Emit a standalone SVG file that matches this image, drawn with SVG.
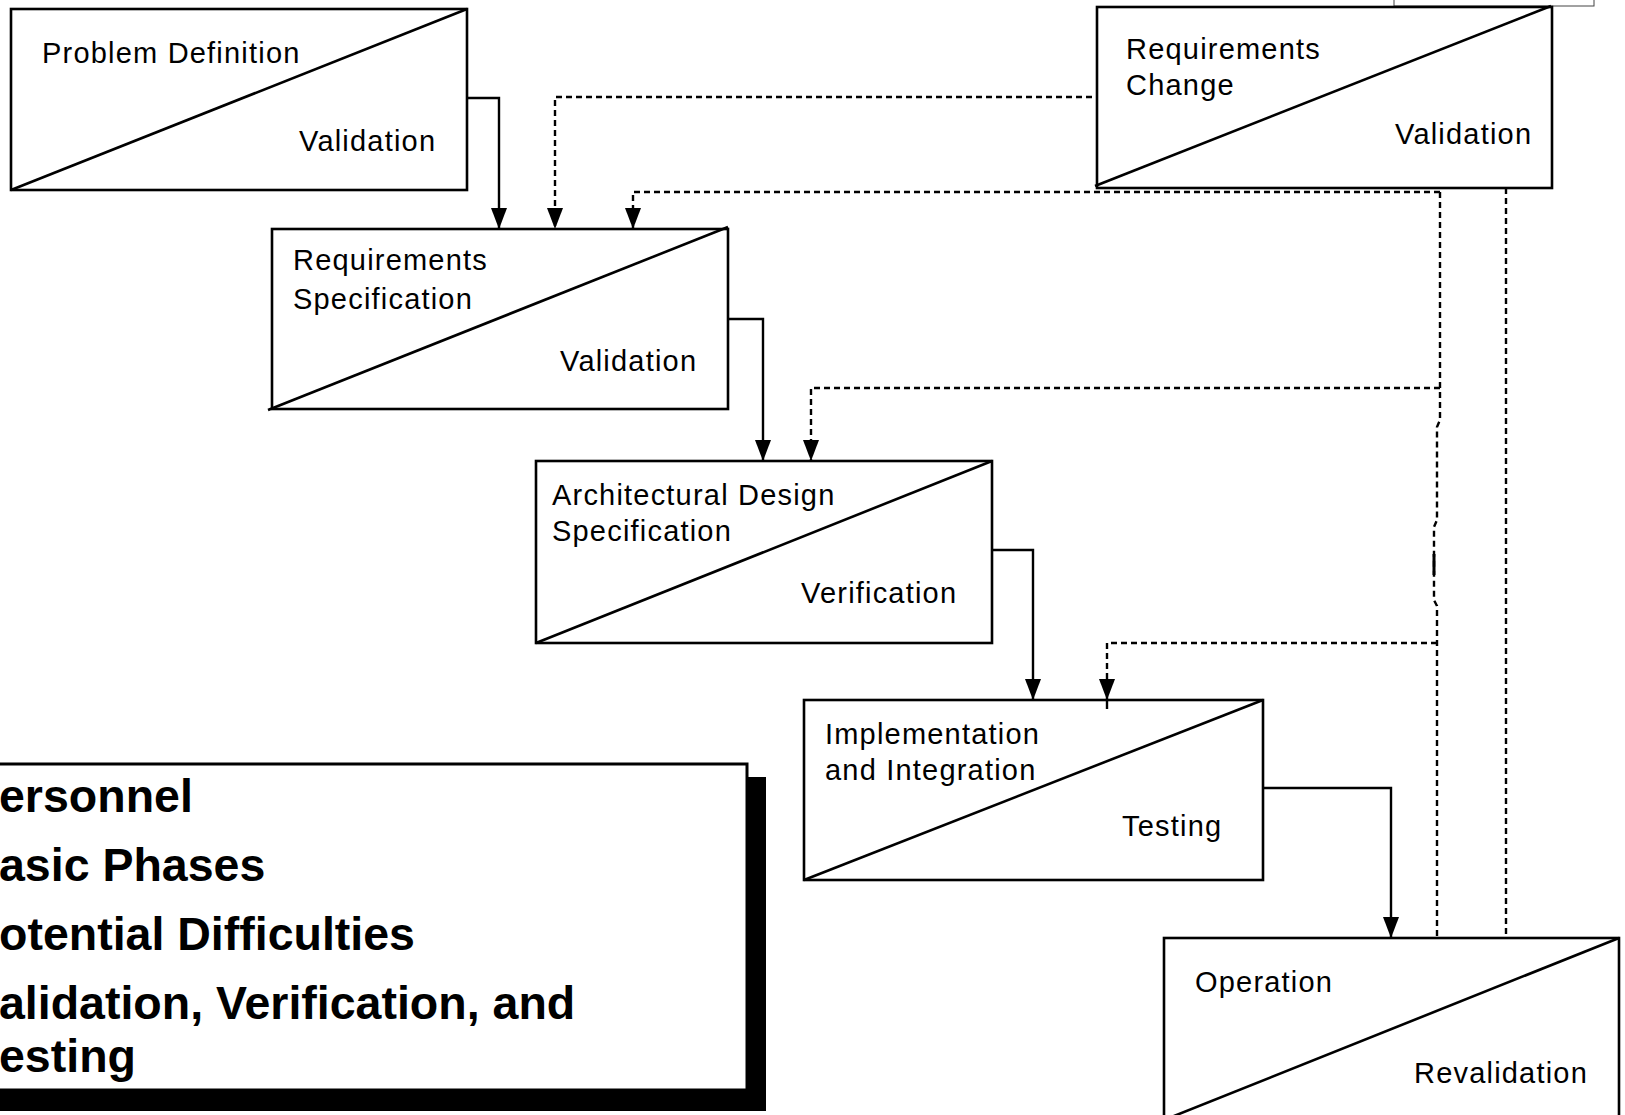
<svg xmlns="http://www.w3.org/2000/svg" width="1625" height="1115" viewBox="0 0 1625 1115">
<style>
.box{fill:#fff;stroke:#000;stroke-width:2.6}
.diag{fill:none;stroke:#000;stroke-width:2.6}
.t{font-family:"Liberation Sans",Arial,sans-serif;font-size:29px;letter-spacing:1.2px;fill:#000}
.b{font-family:"Liberation Sans",Arial,sans-serif;font-size:46.5px;font-weight:bold;fill:#000}
.solid{fill:none;stroke:#000;stroke-width:2.4}
.dash{fill:none;stroke:#000;stroke-width:2.4;stroke-dasharray:6 4}
</style>
<defs>
<marker id="ah" markerUnits="userSpaceOnUse" markerWidth="21" markerHeight="16" viewBox="0 0 21 16" refX="21" refY="8" orient="auto">
<path d="M0,0 L21,8 L0,16 Z" fill="#000"/>
</marker>
</defs>
<rect width="1625" height="1115" fill="#fff"/>

<g id="corner-box">
<rect x="1394" y="-10" width="200" height="16" fill="#fff" stroke="#444" stroke-width="1"/>
</g>

<g id="problem-definition">
<rect class="box" x="11" y="9" width="456" height="181"/>
<line class="diag" x1="11" y1="190" x2="467" y2="9"/>
<text class="t" x="42" y="63">Problem Definition</text>
<text class="t" x="299" y="151">Validation</text>
</g>

<g id="requirements-change">
<rect class="box" x="1097" y="7" width="455" height="181"/>
<line class="diag" x1="1095" y1="186" x2="1551" y2="6"/>
<text class="t" x="1126" y="59">Requirements</text>
<text class="t" x="1126" y="95">Change</text>
<text class="t" x="1395" y="144">Validation</text>
</g>

<g id="requirements-specification">
<rect class="box" x="272" y="229" width="456" height="180"/>
<line class="diag" x1="268" y1="410" x2="728" y2="227"/>
<text class="t" x="293" y="270">Requirements</text>
<text class="t" x="293" y="309">Specification</text>
<text class="t" x="560" y="371">Validation</text>
</g>

<g id="architectural-design">
<rect class="box" x="536" y="461" width="456" height="182"/>
<line class="diag" x1="536" y1="643" x2="992" y2="461"/>
<text class="t" x="552" y="505">Architectural Design</text>
<text class="t" x="552" y="541">Specification</text>
<text class="t" x="801" y="603">Verification</text>
</g>

<g id="implementation">
<rect class="box" x="804" y="700" width="459" height="180"/>
<line class="diag" x1="804" y1="880" x2="1263" y2="700"/>
<text class="t" x="825" y="744">Implementation</text>
<text class="t" x="825" y="780">and Integration</text>
<text class="t" x="1122" y="836">Testing</text>
</g>

<g id="operation">
<rect class="box" x="1164" y="938" width="455" height="185"/>
<line class="diag" x1="1164" y1="1120" x2="1619" y2="938"/>
<text class="t" x="1195" y="992">Operation</text>
<text class="t" x="1414" y="1083">Revalidation</text>
</g>

<g id="connectors">
<path class="solid" d="M467,98 H499 V229" marker-end="url(#ah)"/>
<path class="solid" d="M728,319 H763 V461" marker-end="url(#ah)"/>
<path class="solid" d="M992,550 H1033 V700" marker-end="url(#ah)"/>
<path class="solid" d="M1263,788 H1391 V938" marker-end="url(#ah)"/>
<path class="dash" d="M1092,97 H555 V229" marker-end="url(#ah)"/>
<path class="dash" d="M1440,192 H633 V229" marker-end="url(#ah)"/>
<path class="dash" d="M1440,388 H811 V461" marker-end="url(#ah)"/>
<path class="dash" d="M1437,643 H1107 V700" marker-end="url(#ah)"/>
<line class="solid" x1="1107" y1="700" x2="1107" y2="709"/>
<path class="dash" d="M1440,192 V420 L1437,427 V520 L1434,527 V600 L1437,606 V938"/>
<line x1="1434" y1="554" x2="1434" y2="575" stroke="#000" stroke-width="3"/>
<path class="dash" d="M1506,188 V938"/>
</g>

<g id="summary-box">
<rect x="-10" y="777" width="776" height="334" fill="#000"/>
<rect x="-10" y="764" width="757" height="326" fill="#fff" stroke="#000" stroke-width="3"/>
<text class="b" x="-1" y="812">ersonnel</text>
<text class="b" x="-1" y="881">asic Phases</text>
<text class="b" x="-1" y="950">otential Difficulties</text>
<text class="b" x="-1" y="1019">alidation, Verification, and</text>
<text class="b" x="-1" y="1072">esting</text>
</g>
</svg>
